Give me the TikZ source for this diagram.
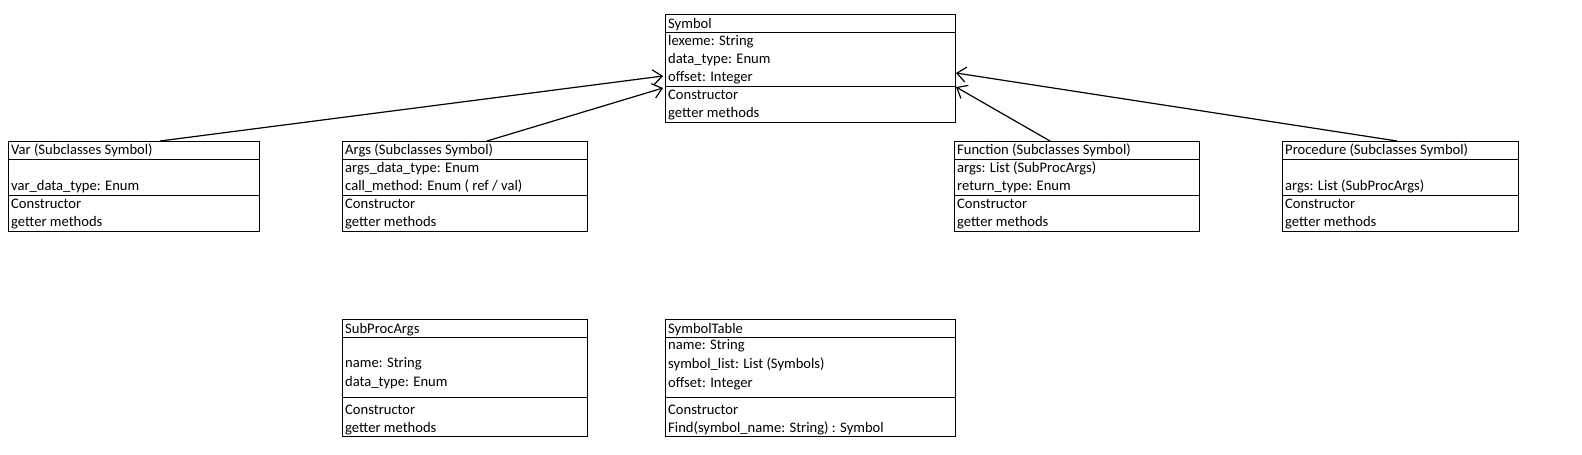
\documentclass[tikz,border=0pt]{standalone}
\usepackage{fontspec}
\setmainfont{Carlito}
\usepackage{tikz}
\usetikzlibrary{arrows.meta,positioning,calc}
\tikzset{>=latex}
\tikzset{
  classbox/.style={draw=black, line width=1pt, rectangle, inner sep=0pt, anchor=north west},
  rowtext/.style={anchor=base west, inner sep=0pt, font=\fontsize{14.6pt}{17pt}\selectfont},
  inherit/.style={-{Straight Barb[length=9pt,width=15pt]}, line width=1.2pt}
}
% rows of a class: node, header line, divider line, baseline/text pairs
\newcommand{\classrows}[4]{%
  \draw[line width=1pt] ([yshift=-#2pt]#1.north west) -- ([yshift=-#2pt]#1.north east);
  \draw[line width=1pt] ([yshift=-#3pt]#1.north west) -- ([yshift=-#3pt]#1.north east);
  \foreach \ypos/\txt in {#4}
    \node[rowtext] at ([xshift=3pt,yshift=-\ypos pt]#1.north west) {\txt};
}
\begin{document}
\begin{tikzpicture}[x=1pt,y=-1pt]
\useasboundingbox (0,0) rectangle (1582,455);
\fill[white] (0,0) rectangle (1582,455);

% top class
\node[classbox, minimum width=290pt, minimum height=108pt] (symbol) at (665,14) {};
\classrows{symbol}{18}{72}{14/Symbol,31/lexeme: String,49/data\_type: Enum,67/offset: Integer,85/Constructor,103/getter methods}

% subclasses
\node[classbox, minimum width=251pt, minimum height=90pt] (var) at (8,141) {};
\classrows{var}{18}{54}{13/Var (Subclasses Symbol),49/var\_data\_type: Enum,67/Constructor,85/getter methods}

\node[classbox, minimum width=245pt, minimum height=90pt] (args) at (342,141) {};
\classrows{args}{18}{54}{13/Args (Subclasses Symbol),31/args\_data\_type: Enum,49/{call\_method: Enum ( ref / val)},67/Constructor,85/getter methods}

\node[classbox, minimum width=245pt, minimum height=90pt] (function) at (954,141) {};
\classrows{function}{18}{54}{13/Function (Subclasses Symbol),31/args: List (SubProcArgs),49/return\_type: Enum,67/Constructor,85/getter methods}

\node[classbox, minimum width=236pt, minimum height=90pt] (procedure) at (1282,141) {};
\classrows{procedure}{18}{54}{13/Procedure (Subclasses Symbol),49/args: List (SubProcArgs),67/Constructor,85/getter methods}

% helper classes
\node[classbox, minimum width=245pt, minimum height=117pt] (subprocargs) at (342,319) {};
\classrows{subprocargs}{18}{78}{14/SubProcArgs,48/name: String,67/data\_type: Enum,95/Constructor,113/getter methods}

\node[classbox, minimum width=290pt, minimum height=117pt] (symboltable) at (665,319) {};
\classrows{symboltable}{18}{78}{14/SymbolTable,30/name: String,49/symbol\_list: List (Symbols),68/offset: Integer,95/Constructor,113/Find(symbol\_name: String) : Symbol}

% inheritance arrows
\draw[inherit] ([xshift=152pt]var.north west) -- ([xshift=-2pt,yshift=-62pt]symbol.north west);
\draw[inherit] ([xshift=145pt]args.north west) -- ([xshift=-2pt,yshift=-74pt]symbol.north west);
\draw[inherit] ([xshift=96pt]function.north west) -- ([yshift=-73pt]symbol.north east);
\draw[inherit] ([xshift=115pt]procedure.north west) -- ([yshift=-59pt]symbol.north east);
\end{tikzpicture}
\end{document}
